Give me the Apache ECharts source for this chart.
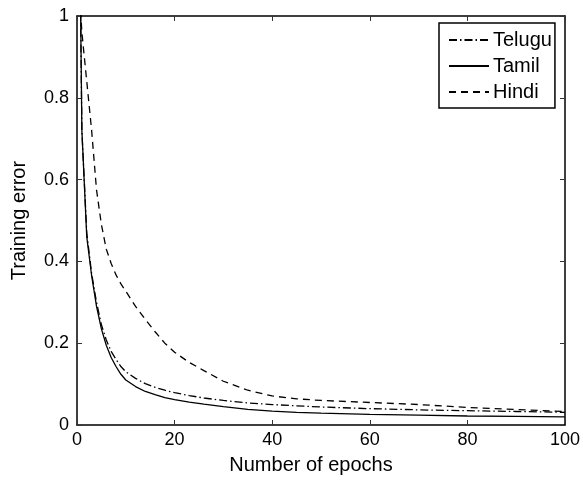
<!DOCTYPE html>
<html>
<head>
<meta charset="utf-8">
<script src="https://cdn.jsdelivr.net/npm/echarts@6/dist/echarts.min.js"></script>
<style>
  html, body { margin: 0; padding: 0; background: #fff; }
  #main { width: 583px; height: 480px; }
</style>
</head>
<body>
<div id="main"></div>
<script>
// values (epoch 0 points lie above the axis and get clipped)
const epochs = [0, 1, 2, 3, 4, 5, 6, 7, 8, 9, 10, 12, 14, 16, 18, 20, 23, 26, 30, 35, 40, 45, 50, 60, 70, 80, 90, 100]
const telugu = [1.84, 0.72, 0.47, 0.37, 0.3, 0.245, 0.208, 0.18, 0.16, 0.143, 0.13, 0.114, 0.101, 0.092, 0.085, 0.079, 0.072, 0.066, 0.06, 0.054, 0.05, 0.047, 0.044, 0.04, 0.037, 0.035, 0.033, 0.031]
const tamil = [1.84, 0.72, 0.46, 0.365, 0.29, 0.235, 0.195, 0.165, 0.143, 0.124, 0.11, 0.094, 0.082, 0.074, 0.067, 0.062, 0.056, 0.051, 0.045, 0.038, 0.034, 0.031, 0.029, 0.026, 0.024, 0.022, 0.021, 0.02]
const hindi = [1.16, 0.96, 0.84, 0.72, 0.575, 0.49, 0.43, 0.395, 0.367, 0.345, 0.327, 0.29, 0.258, 0.228, 0.2, 0.178, 0.153, 0.133, 0.107, 0.085, 0.071, 0.064, 0.06, 0.055, 0.05, 0.043, 0.038, 0.033]
const xTicks = [0, 20, 40, 60, 80, 100]
const yTicks = [0, 0.2, 0.4, 0.6, 0.8, 1]

function pairs (values) {
  return epochs.map(function (e, i) { return [e, values[i]] })
}

const font = 'Liberation Sans, Arial, Helvetica, sans-serif'
const boxLine = { show: true, onZero: false, lineStyle: { color: '#000', width: 1.5 } }
const inTick = { show: true, inside: true, length: 5, lineStyle: { color: '#333', width: 1 } }

function curve (name, values, dash) {
  return {
    name: name,
    type: 'line',
    data: pairs(values),
    symbol: 'none',
    clip: true,
    lineStyle: { color: '#000', width: 1.3, type: dash },
    itemStyle: { color: '#000' }
  }
}

const myChart = echarts.init(document.getElementById('main'))
const option = {
  animation: false,
  backgroundColor: '#fff',
  textStyle: { fontFamily: font },
  grid: { left: 77, right: 17, top: 16, bottom: 52 },
  legend: {
    orient: 'vertical',
    left: 439,
    top: 23,
    data: ['Telugu', 'Tamil', 'Hindi'],
    itemWidth: 40,
    itemHeight: 14,
    itemGap: 6,
    padding: [7, 3, 6, 9],
    borderColor: '#000',
    borderWidth: 1.5,
    backgroundColor: '#fff',
    itemStyle: { opacity: 0 },
    textStyle: { fontFamily: font, fontSize: 20, color: '#000', padding: [0, 0, 0, -1] }
  },
  xAxis: [
    {
      type: 'value',
      min: 0,
      max: 100,
      interval: 20,
      name: 'Number of epochs',
      nameLocation: 'middle',
      nameGap: 30,
      nameTextStyle: { fontFamily: font, fontSize: 20, color: '#000', padding: [0, 20, 0, 0] },
      axisLine: boxLine,
      axisTick: inTick,
      axisLabel: {
        fontFamily: font,
        fontSize: 18,
        color: '#000',
        margin: 6,
        formatter: function (v) { return xTicks.indexOf(v) >= 0 ? String(v) : '' }
      },
      splitLine: { show: false }
    },
    {
      type: 'value',
      position: 'top',
      min: 0,
      max: 100,
      interval: 20,
      axisLine: boxLine,
      axisTick: inTick,
      axisLabel: { show: false },
      splitLine: { show: false }
    }
  ],
  yAxis: [
    {
      type: 'value',
      min: 0,
      max: 1,
      interval: 0.2,
      name: 'Training error',
      nameLocation: 'middle',
      nameGap: 48,
      nameTextStyle: { fontFamily: font, fontSize: 20, color: '#000' },
      axisLine: boxLine,
      axisTick: inTick,
      axisLabel: {
        fontFamily: font,
        fontSize: 18,
        color: '#000',
        margin: 8,
        formatter: function (v) {
          const t = yTicks.find(function (y) { return Math.abs(y - v) < 1e-9 })
          return t === undefined ? '' : String(t)
        }
      },
      splitLine: { show: false }
    },
    {
      type: 'value',
      position: 'right',
      min: 0,
      max: 1,
      interval: 0.2,
      axisLine: boxLine,
      axisTick: inTick,
      axisLabel: { show: false },
      splitLine: { show: false }
    }
  ],
  series: [
    curve('Telugu', telugu, [8, 3, 1.5, 3]),
    curve('Tamil', tamil, 'solid'),
    curve('Hindi', hindi, [7, 5])
  ]
}

myChart.setOption(option)
</script>
</body>
</html>
